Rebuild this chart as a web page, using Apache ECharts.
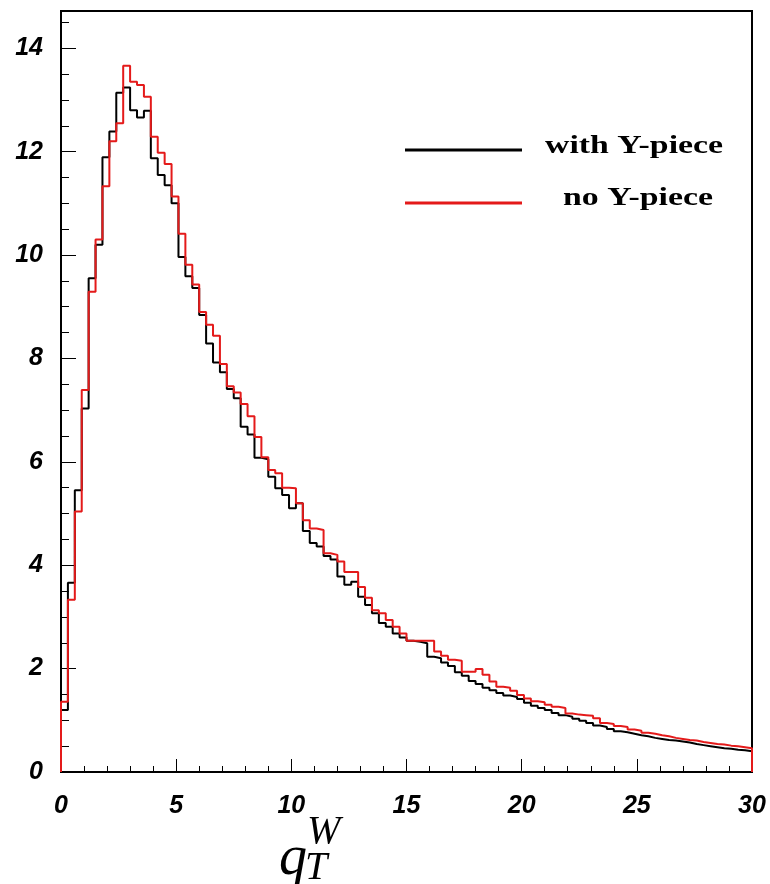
<!DOCTYPE html>
<html>
<head>
<meta charset="utf-8">
<script src="https://cdn.jsdelivr.net/npm/echarts@6/dist/echarts.min.js"></script>
<style>
  html, body { margin: 0; padding: 0; background: #fff; }
  #chart { width: 770px; height: 884px; }
</style>
</head>
<body>
<div id="chart"></div>
<script>
// Histogram: 100 bins of width 0.3 over q_T^W in [0, 30]
const binWidth = 0.3;
const xTicks = [0, 5, 10, 15, 20, 25, 30];
const yTicks = [0, 2, 4, 6, 8, 10, 12, 14];
const seriesNames = ['with Y-piece', 'no Y-piece'];

const withYpiece = [
  1.20, 3.66, 5.45, 7.03, 9.55, 10.20, 11.89, 12.39, 13.14, 13.24,
  12.80, 12.66, 12.79, 11.87, 11.55, 11.35, 11.00, 9.96, 9.59, 9.36,
  8.84, 8.29, 7.92, 7.73, 7.41, 7.23, 6.68, 6.53, 6.08, 6.05,
  5.71, 5.49, 5.36, 5.10, 5.20, 4.66, 4.43, 4.36, 4.18, 4.11,
  3.78, 3.62, 3.68, 3.39, 3.23, 3.07, 2.88, 2.81, 2.68, 2.60,
  2.54, 2.52, 2.49, 2.23, 2.20, 2.12, 2.05, 1.93, 1.86, 1.76,
  1.70, 1.63, 1.58, 1.53, 1.48, 1.45, 1.41, 1.34, 1.28, 1.24,
  1.20, 1.14, 1.10, 1.07, 1.03, 0.99, 0.95, 0.90, 0.87, 0.83,
  0.79, 0.77, 0.74, 0.71, 0.69, 0.66, 0.64, 0.62, 0.61, 0.59,
  0.57, 0.54, 0.52, 0.50, 0.48, 0.46, 0.45, 0.43, 0.42, 0.40
];

const noYpiece = [
  1.36, 3.33, 5.04, 7.39, 9.29, 10.30, 11.33, 12.20, 12.55, 13.66,
  13.35, 13.29, 13.06, 12.29, 11.98, 11.76, 11.13, 10.41, 9.81, 9.43,
  8.90, 8.65, 8.44, 7.89, 7.46, 7.34, 7.12, 6.88, 6.48, 6.09,
  5.84, 5.78, 5.50, 5.49, 5.20, 4.87, 4.71, 4.68, 4.23, 4.20,
  4.07, 3.87, 3.87, 3.58, 3.37, 3.13, 3.07, 2.94, 2.81, 2.68,
  2.54, 2.54, 2.54, 2.54, 2.33, 2.25, 2.17, 2.15, 1.94, 1.94,
  1.99, 1.88, 1.75, 1.65, 1.63, 1.57, 1.49, 1.42, 1.37, 1.35,
  1.30, 1.26, 1.24, 1.13, 1.11, 1.10, 1.09, 1.04, 0.95, 0.93,
  0.89, 0.87, 0.82, 0.80, 0.76, 0.74, 0.71, 0.69, 0.66, 0.64,
  0.62, 0.61, 0.58, 0.56, 0.54, 0.53, 0.51, 0.50, 0.48, 0.46
];

function histPoints(vals) {
  const pts = [[0, 0]];
  for (let i = 0; i < vals.length; i++) pts.push([+(i * binWidth).toFixed(4), vals[i]]);
  const end = +(vals.length * binWidth).toFixed(4);
  pts.push([end, vals[vals.length - 1]]);
  pts.push([end, 0]);
  return pts;
}

const BLACK = '#000';
const RED = '#e41a1a';
const chart = echarts.init(document.getElementById('chart'), null, { renderer: 'canvas' });
const labelFont = { fontFamily: 'Liberation Sans', fontWeight: 'bold', fontStyle: 'italic', fontSize: 25, color: '#000' };
const legendFont = 'bold 26px "Liberation Serif"';

chart.setOption({
  backgroundColor: '#fff',
  animation: false,
  grid: { left: 61, top: 11, right: 18, bottom: 112, show: true, borderColor: '#000', borderWidth: 2, backgroundColor: 'transparent' },
  xAxis: {
    type: 'value', min: 0, max: 30, interval: 5,
    axisLine: { show: true, onZero: false, lineStyle: { color: '#000', width: 2 } },
    axisTick: { show: true, inside: true, length: 13, lineStyle: { color: '#000', width: 1 } },
    minorTick: { show: true, splitNumber: 5, length: 6, lineStyle: { color: '#000', width: 1 } },
    splitLine: { show: false },
    axisLabel: Object.assign({ margin: 22, formatter: v => xTicks.includes(v) ? String(v) : '' }, labelFont)
  },
  yAxis: {
    type: 'value', min: 0, max: 14.72, interval: 2,
    axisLine: { show: true, onZero: false, lineStyle: { color: '#000', width: 2 } },
    axisTick: { show: true, inside: true, length: 15, lineStyle: { color: '#000', width: 1 } },
    minorTick: { show: true, splitNumber: 4, length: 8, lineStyle: { color: '#000', width: 1 } },
    splitLine: { show: false },
    axisLabel: Object.assign({ margin: 18, showMaxLabel: false, formatter: v => yTicks.includes(v) ? String(v) : '' }, labelFont)
  },
  series: [
    {
      name: seriesNames[0], type: 'line', step: 'end', symbol: 'none',
      data: histPoints(withYpiece),
      lineStyle: { color: BLACK, width: 2 }, itemStyle: { color: BLACK }
    },
    {
      name: seriesNames[1], type: 'line', step: 'end', symbol: 'none',
      data: histPoints(noYpiece),
      lineStyle: { color: RED, width: 2 }, itemStyle: { color: RED }
    }
  ],
  graphic: [
    // legend
    { type: 'line', shape: { x1: 405, y1: 150, x2: 522, y2: 150 }, style: { stroke: BLACK, lineWidth: 3 } },
    { type: 'text', x: 545, y: 146, scaleX: 1.3, style: { text: seriesNames[0], font: legendFont, fill: '#000', verticalAlign: 'middle' } },
    { type: 'line', shape: { x1: 405, y1: 203, x2: 522, y2: 203 }, style: { stroke: RED, lineWidth: 3 } },
    { type: 'text', x: 563, y: 198, scaleX: 1.3, style: { text: seriesNames[1], font: legendFont, fill: '#000', verticalAlign: 'middle' } },
    // x-axis title q_T^W
    { type: 'text', left: 279, top: 831, style: { text: 'q', font: 'italic 56px "Liberation Serif"', fill: '#000' } },
    { type: 'text', left: 307, top: 812, style: { text: 'W', font: 'italic 40px "Liberation Serif"', fill: '#000' } },
    { type: 'text', left: 305, top: 848, style: { text: 'T', font: 'italic 40px "Liberation Serif"', fill: '#000' } }
  ]
});
</script>
</body>
</html>
